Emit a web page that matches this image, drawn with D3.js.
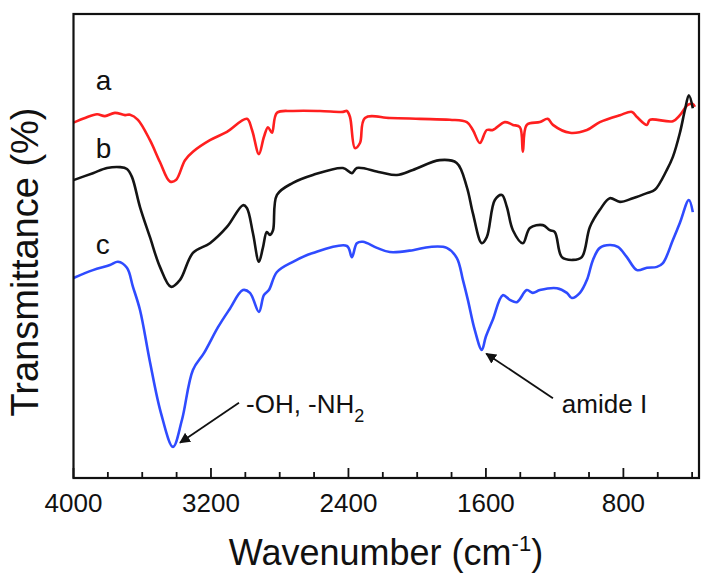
<!DOCTYPE html>
<html>
<head>
<meta charset="utf-8">
<script src="https://cdn.jsdelivr.net/npm/d3@7"></script>
<style>
  body { margin: 0; background: #fff; }
  text { font-family: "Liberation Sans", Arial, sans-serif; fill: #111; }
</style>
</head>
<body>
<svg id="chart" width="709" height="578"></svg>
<script>
// FTIR spectra (transmittance in arbitrary units, offset curves)
var waveA = [4000,3933,3863,3817,3759,3700,3671,3625,3555,3497,3439,3404,3351,3305,3206,3107,2991,2961,2921,2892,2868,2845,2816,2723,2566,2432,2409,2391,2362,2333,2304,2159,1984,1810,1711,1676,1635,1595,1560,1490,1443,1402,1385,1362,1286,1240,1210,1111,1012,937,820,750,721,663,646,512,471,425,396,384]
var transA = [76.6,77.6,78.4,78.0,78.7,78.2,78.3,77.2,72.8,68.1,63.9,64.2,68.5,70.3,72.8,74.6,77.4,75.0,69.8,73.5,75.6,74.4,78.7,79.1,79.1,78.9,79.1,77.8,71.1,72.2,77.6,77.6,77.4,77.2,76.7,75.0,72.2,75.0,75.0,76.7,76.1,75.6,70.3,76.1,76.7,77.4,76.1,74.4,75.0,76.7,78.2,78.9,77.8,76.1,77.2,76.9,78.2,80.4,80.6,80.0]

var waveB = [4000,3887,3805,3729,3689,3660,3613,3555,3497,3433,3380,3305,3206,3107,3014,2991,2956,2921,2898,2875,2857,2839,2816,2723,2607,2432,2380,2351,2217,2118,2025,1869,1770,1711,1676,1624,1595,1548,1507,1478,1443,1385,1344,1269,1228,1199,1158,1094,1042,995,937,879,820,745,663,617,547,512,471,442,419,396]
var transB = [64.2,65.7,66.8,67.0,66.6,64.9,58.4,51.9,45.5,41.2,42.7,48.5,50.6,54.1,58.8,58.2,52.8,46.6,49.6,53.0,52.4,53.4,61.0,63.6,65.3,66.8,65.7,66.8,65.9,65.3,66.4,68.5,67.9,62.7,57.1,50.6,51.9,59.9,61.0,58.4,53.4,50.6,53.9,54.5,53.4,53.0,47.6,47.0,47.6,54.1,57.8,60.3,59.5,60.3,61.4,62.1,66.4,69.2,74.4,79.3,82.5,79.7]

var waveC = [4000,3887,3788,3741,3689,3654,3613,3555,3491,3421,3369,3305,3241,3159,3095,3014,2973,2921,2892,2863,2816,2723,2607,2409,2380,2351,2316,2234,2159,2025,1926,1828,1769,1734,1705,1665,1624,1601,1560,1502,1461,1420,1362,1327,1286,1187,1129,1100,1053,1012,977,937,879,832,780,721,663,605,570,512,471,419,396]
var transC = [43.1,44.8,45.9,46.6,45.3,41.2,36.2,25.0,14.0,6.7,12.5,23.3,26.9,32.5,36.2,40.5,39.9,35.8,39.4,40.5,44.4,46.6,48.5,50.0,47.6,50.6,50.9,49.6,48.7,49.1,49.8,49.6,47.4,42.7,38.4,31.9,27.6,30.4,34.1,39.4,38.4,37.9,40.5,39.9,40.5,40.9,39.9,38.8,39.9,42.7,47.0,49.6,50.2,49.8,47.6,44.8,45.3,45.5,46.3,51.3,55.0,59.9,57.3]

var seriesNames = ['a', 'b', 'c']
var seriesColors = ['#ff1f1f', '#141414', '#2f4bff']
var tickValues = [4000, 3200, 2400, 1600, 800]

var drawChart = () => {

    var svg = d3.select('#chart')
    var left = 73.5, right = 699, plotTop = 14, bottom = 478

    var x = d3.scaleLinear().domain([4000, 360]).range([left, right])
    var y = d3.scaleLinear().domain([0, 100]).range([bottom, plotTop])

    var allSeries = [
        {name: 'a', wave: waveA, trans: transA},
        {name: 'b', wave: waveB, trans: transB},
        {name: 'c', wave: waveC, trans: transC}
    ]

    // catmull-rom keeps the line through every read point but rounds the broad bands
    var line = d3.line()
                .x(d => x(d[0]))
                .y(d => y(d[1]))
                .curve(d3.curveCatmullRom.alpha(0.5))

    allSeries.forEach((s, i) => {
        var pts = s.wave.map((w, j) => [w, s.trans[j]])
        svg.append('path')
            .datum(pts)
            .attr('d', line)
            .attr('fill', 'none')
            .attr('stroke', seriesColors[i])
            .attr('stroke-width', 2.6)
            .attr('stroke-linejoin', 'round')
    })

    // frame
    svg.append('rect')
        .attr('x', left).attr('y', plotTop)
        .attr('width', right - left).attr('height', bottom - plotTop)
        .attr('fill', 'none').attr('stroke', '#111').attr('stroke-width', 2.2)

    // bottom axis, ticks pointing inward
    var minorTicks = d3.range(4000, 359, -200).filter(v => tickValues.indexOf(v) < 0)
    var axis = svg.append('g')
    minorTicks.forEach(v => {
        axis.append('line')
            .attr('x1', x(v)).attr('x2', x(v))
            .attr('y1', bottom).attr('y2', bottom - 6)
            .attr('stroke', '#111').attr('stroke-width', 1.8)
    })
    tickValues.forEach(v => {
        axis.append('line')
            .attr('x1', x(v)).attr('x2', x(v))
            .attr('y1', bottom).attr('y2', bottom - 10)
            .attr('stroke', '#111').attr('stroke-width', 1.8)
        axis.append('text')
            .attr('x', x(v)).attr('y', 512)
            .attr('text-anchor', 'middle')
            .style('font-size', '26px')
            .text(v)
    })

    // axis titles
    var xt = svg.append('text')
                .attr('x', 386).attr('y', 565)
                .attr('text-anchor', 'middle')
                .style('font-size', '36px')
    xt.append('tspan').text('Wavenumber (cm')
    xt.append('tspan').attr('dy', -14).style('font-size', '22px').text('-1')
    xt.append('tspan').attr('dy', 14).text(')')

    svg.append('text')
        .attr('transform', 'translate(38,262) rotate(-90)')
        .attr('text-anchor', 'middle')
        .style('font-size', '38px')
        .text('Transmittance (%)')

    // curve labels
    var labelPos = [[3870, 83.6], [3870, 69.0], [3870, 48.3]]
    seriesNames.forEach((n, i) => {
        svg.append('text')
            .attr('x', x(labelPos[i][0])).attr('y', y(labelPos[i][1]))
            .style('font-size', '28px')
            .text(n)
    })

    // annotations with arrows
    svg.append('defs').append('marker')
        .attr('id', 'arrow')
        .attr('viewBox', '0 0 10 10')
        .attr('refX', 9).attr('refY', 5)
        .attr('markerWidth', 6).attr('markerHeight', 6)
        .attr('orient', 'auto')
        .append('path')
        .attr('d', 'M0,0 L10,5 L0,10 Z')
        .attr('fill', '#111')

    var notes = [
        {from: [3037, 16.2], to: [3380, 7.6], textAt: [2996, 14.0], label: 'oh'},
        {from: [1210, 17.2], to: [1598, 26.8], textAt: [1158, 14.0], label: 'amide I'}
    ]
    notes.forEach(n => {
        svg.append('line')
            .attr('x1', x(n.from[0])).attr('y1', y(n.from[1]))
            .attr('x2', x(n.to[0])).attr('y2', y(n.to[1]))
            .attr('stroke', '#111').attr('stroke-width', 1.8)
            .attr('marker-end', 'url(#arrow)')
        var t = svg.append('text')
                    .attr('x', x(n.textAt[0])).attr('y', y(n.textAt[1]))
                    .style('font-size', '26px')
        if (n.label == 'oh') {
            t.append('tspan').text('-OH, -NH')
            t.append('tspan').attr('dy', 9).style('font-size', '18px').text('2')
        } else {
            t.text(n.label)
        }
    })
}

drawChart()
</script>
</body>
</html>
